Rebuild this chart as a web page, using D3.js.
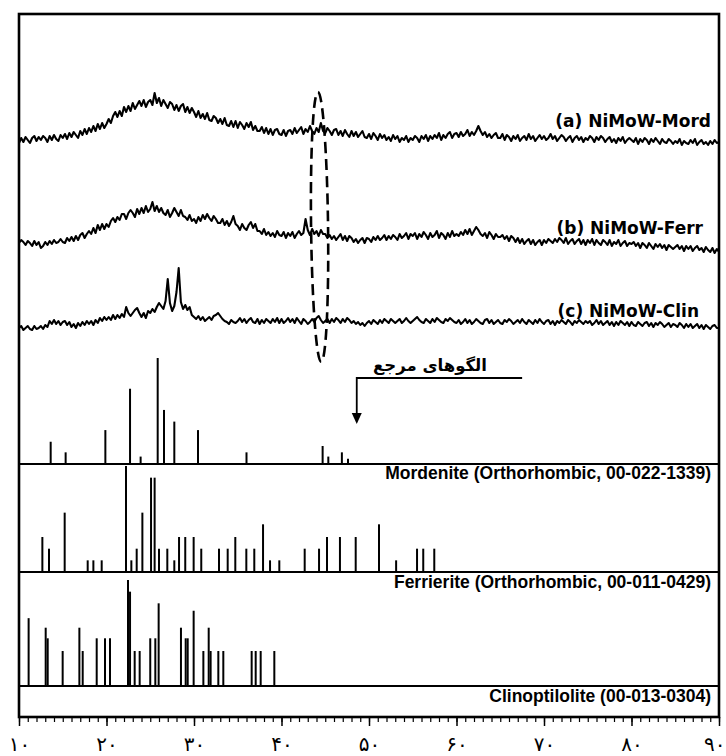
<!DOCTYPE html>
<html><head><meta charset="utf-8">
<script src="https://cdn.jsdelivr.net/npm/d3@7/dist/d3.min.js"></script>
<style>body{margin:0;background:#fff}</style>
</head><body><svg id="chart" width="726" height="756"></svg>
<script>
// ---------------- data ----------------
const angleStart = 10, angleStep = 0.25;   // 2θ sampling of the measured patterns
const curveLabels = ["(a) NiMoW-Mord", "(b) NiMoW-Ferr", "(c) NiMoW-Clin"];
const curveA = [
 7,12,8,13,10,7,12,14,9,13,10,14,12,8,14,10,15,11,9,15,
 12,16,11,17,13,18,15,12,19,15,21,16,22,18,24,19,26,21,27,22,
 26,31,27,34,38,33,39,34,43,38,44,39,47,41,45,49,44,50,43,48,
 50,45,57,47,52,44,50,46,42,48,46,40,45,39,44,46,38,43,37,42,
 38,33,39,32,36,31,37,30,29,34,32,27,31,26,32,25,24,29,23,29,
 22,28,25,21,27,23,28,20,24,19,19,23,17,22,16,21,15,20,21,16,
 15,20,14,19,20,16,22,17,20,23,16,21,18,24,19,16,22,18,27,19,
 17,22,19,15,20,21,15,19,14,20,16,13,19,14,18,13,16,19,13,12,
 16,11,17,14,10,16,12,15,10,13,9,15,11,14,8,12,10,14,8,12,
 10,14,12,8,14,11,15,9,14,11,15,12,17,10,15,12,16,18,12,16,
 17,13,18,14,16,20,14,18,15,19,24,19,15,18,13,16,12,15,17,12,
 12,16,10,15,13,9,14,11,15,9,12,14,10,16,11,14,9,12,15,11,
 14,10,12,16,11,14,9,12,15,13,9,12,14,8,12,14,10,13,8,12,
 10,14,12,8,13,10,14,12,8,11,13,8,11,7,12,9,13,7,10,12,
 10,8,12,6,11,8,12,10,6,11,8,12,9,6,11,8,7,11,9,6,
 9,7,11,5,9,7,6,10,7,11,5,8,10,6,8,5,9,6,10,7,
 8];
const curveB = [
 12,15,13,10,14,12,9,14,10,13,7,9,13,10,14,11,15,12,13,16,
 13,12,17,14,18,14,19,15,20,22,17,21,24,21,27,22,30,25,31,26,
 31,28,34,37,33,38,35,41,41,36,42,45,42,38,46,41,47,42,49,43,
 46,53,44,49,43,47,42,40,45,38,42,47,43,39,45,39,38,35,40,34,
 36,32,38,34,40,36,41,37,34,39,36,32,32,36,30,34,29,33,39,31,
 29,25,31,27,25,30,33,27,31,24,24,21,26,20,23,19,22,18,24,20,
 19,23,17,22,19,23,17,21,24,20,22,36,25,20,26,21,24,19,25,21,
 21,17,20,16,19,15,18,21,15,19,14,19,17,13,16,12,15,17,12,17,
 16,13,18,15,19,15,17,20,15,19,16,20,18,15,21,17,19,22,16,21,
 19,22,16,21,18,23,20,16,22,18,20,24,17,22,20,16,22,18,24,19,
 21,19,23,20,25,21,26,20,24,28,25,21,19,22,17,23,20,16,21,18,
 18,20,16,19,14,19,17,13,17,12,16,11,14,16,11,15,10,13,15,10,
 15,12,16,14,12,16,13,17,15,12,17,11,14,16,11,14,16,11,15,10,
 15,12,16,10,15,12,10,15,13,10,15,9,13,11,15,9,12,14,9,12,
 11,13,9,12,7,12,10,7,12,9,6,11,8,11,7,10,5,10,8,6,
 8,10,6,9,4,9,6,9,4,7,9,5,7,3,8,5,3,7,2,6,
 3];
const curveC = [
 2,4,0,2,4,1,0,4,1,2,4,1,5,3,9,6,10,6,9,5,
 8,9,5,8,3,6,2,7,4,8,5,9,6,9,5,10,7,12,9,13,
 10,13,10,15,11,15,12,16,13,23,17,14,17,20,22,17,13,17,12,19,
 17,21,18,23,27,24,21,29,51,27,19,24,38,62,28,21,25,20,23,15,
 13,11,14,10,13,9,11,13,10,14,15,17,14,11,9,8,6,10,8,7,
 9,12,8,11,7,10,12,8,7,11,6,10,7,11,9,7,11,8,12,7,
 11,7,9,12,8,11,7,12,9,6,11,9,6,8,11,8,12,14,10,7,
 9,11,7,11,8,12,10,7,11,8,12,10,7,9,6,8,5,7,4,7,
 9,6,10,8,6,10,7,11,9,7,11,9,7,9,11,7,9,12,9,7,
 9,11,13,10,8,7,11,9,7,11,8,12,10,8,7,11,9,12,10,8,
 7,10,6,8,11,7,10,6,8,11,9,7,6,10,11,7,10,6,8,10,
 7,6,10,8,11,9,6,8,10,7,11,8,6,10,8,6,10,7,11,8,
 6,9,10,6,9,5,9,7,10,8,6,10,8,5,9,7,10,8,6,9,
 7,9,5,7,10,6,9,5,7,9,5,8,4,8,5,9,7,5,8,4,
 8,5,4,8,6,4,7,8,4,7,3,7,5,8,6,3,5,7,3,6,
 5,3,7,5,2,6,3,6,2,4,6,2,5,1,5,3,1,4,5,2,
 2];

// reference stick patterns: 2θ positions and relative intensities (%)
const refLabels = ["Mordenite (Orthorhombic, 00-022-1339)", "Ferrierite (Orthorhombic, 00-011-0429)", "Clinoptilolite  (00-013-0304)"];
const mordenitePos = [13.62,15.33,19.87,22.69,23.9,25.85,26.57,27.75,30.46,36.0,44.7,45.35,46.9,47.6];
const mordeniteInt = [21,11,32,71,7,100,51,40,32,11,17,7,11,5];
const ferrieritePos = [12.67,13.43,15.22,17.85,18.5,19.45,22.23,22.84,23.45,24.1,25.09,25.5,26.0,26.95,27.75,28.29,29.0,29.96,30.83,32.86,33.85,34.72,35.98,36.89,37.89,38.69,39.75,42.65,44.29,45.2,46.68,48.48,51.14,53.1,55.49,56.2,57.46];
const ferrieriteInt = [33,22,56,11,11,11,100,11,22,56,89,89,22,22,11,33,33,33,22,22,22,33,22,22,45,11,11,22,22,33,33,33,45,11,22,22,22];
const clinoPos = [11.1,13.05,13.28,14.99,16.9,17.28,18.88,19.83,20.4,22.46,22.69,23.22,23.79,25.0,25.58,25.96,28.51,29.05,29.28,29.96,31.07,31.68,31.9,32.78,33.35,36.59,37.05,37.62,39.18];
const clinoInt = [64,55,45,33,55,33,45,45,45,100,89,33,33,45,45,78,55,45,45,71,33,55,33,33,33,33,33,33,33];

const tickValues = [10,20,30,40,50,60,70,80,90];
const tickLabels = ["۱۰","۲۰","۳۰","۴۰","۵۰","۶۰","۷۰","۸۰","۹۰"];
const annotationText = "الگوهای مرجع";

// ---------------- layout ----------------
const svg = d3.select("#chart");
const L = 19, R = 719, T = 14, B = 717;
const x = d3.scaleLinear().domain([10, 90]).range([L, R]);

// measured curves
const curves = [
  {vals: curveA, base: 150, label: curveLabels[0], ly: 127, lx: 711},
  {vals: curveB, base: 255, label: curveLabels[1], ly: 234, lx: 703},
  {vals: curveC, base: 330, label: curveLabels[2], ly: 317, lx: 699}
];
curves.forEach(c => {
  const y = d3.scaleLinear().domain([0, 100]).range([c.base, c.base - 100]);
  const line = d3.line().x((d, i) => x(angleStart + i * angleStep)).y(d => y(d));
  svg.append("path").attr("d", line(c.vals)).attr("fill", "none")
    .attr("stroke", "#000").attr("stroke-width", 2.1).attr("stroke-linejoin", "round");
  svg.append("text").attr("x", c.lx).attr("y", c.ly).attr("text-anchor", "end")
    .attr("font-family", "DejaVu Sans").attr("font-weight", "bold").attr("font-size", 17)
    .text(c.label);
});

// stick panels
const panels = [
  {pos: mordenitePos, int: mordeniteInt, base: 464, label: refLabels[0], ly: 478.5},
  {pos: ferrieritePos, int: ferrieriteInt, base: 572, label: refLabels[1], ly: 588},
  {pos: clinoPos, int: clinoInt, base: 686, label: refLabels[2], ly: 702}
];
panels.forEach(p => {
  const y = d3.scaleLinear().domain([0, 100]).range([p.base, p.base - 106]);
  svg.append("g").selectAll("line").data(p.pos).join("line")
    .attr("x1", d => x(d)).attr("x2", d => x(d))
    .attr("y1", y(0)).attr("y2", (d, i) => y(p.int[i]))
    .attr("stroke", "#000").attr("stroke-width", 2);
  svg.append("line").attr("x1", L).attr("x2", R).attr("y1", p.base).attr("y2", p.base)
    .attr("stroke", "#000").attr("stroke-width", 2);
  svg.append("text").attr("x", 711).attr("y", p.ly).attr("text-anchor", "end")
    .attr("font-family", "Liberation Sans, Arial").attr("font-weight", "bold").attr("font-size", 17.5)
    .text(p.label);
});

// annotation: reference patterns arrow
svg.append("text").attr("x", 430).attr("y", 371).attr("text-anchor", "middle")
  .attr("font-family", "DejaVu Sans").attr("font-weight", "bold").attr("font-size", 16.5).attr("direction", "rtl")
  .text(annotationText);
svg.append("path").attr("d", `M${x(67.5)},378H${x(48.6)}V414`).attr("fill", "none")
  .attr("stroke", "#000").attr("stroke-width", 1.8);
svg.append("path").attr("d", `M${x(48.6)-5},413L${x(48.6)+5},413L${x(48.6)},424Z`).attr("fill", "#000");

// dashed ellipse
svg.append("ellipse").attr("cx", x(44.35)).attr("cy", 227).attr("rx", 8.5).attr("ry", 135)
  .attr("fill", "none").attr("stroke", "#000").attr("stroke-width", 2.6)
  .attr("stroke-dasharray", "11,6").attr("transform", `rotate(-0.7 ${x(44.35)} 227)`);

// frame
svg.append("rect").attr("x", L).attr("y", T).attr("width", R - L).attr("height", B - T)
  .attr("fill", "none").attr("stroke", "#000").attr("stroke-width", 2.6);

// axis
const minor = d3.axisBottom(x).tickValues(d3.range(10, 91, 1)).tickSize(5).tickFormat("");
const gMinor = svg.append("g").attr("transform", `translate(0,${B})`).call(minor);
gMinor.select(".domain").remove();
gMinor.selectAll("line").attr("stroke-width", 1.2);
const major = d3.axisBottom(x).tickValues(tickValues).tickSize(9)
  .tickFormat((d, i) => tickLabels[i]).tickPadding(11);
const gMajor = svg.append("g").attr("transform", `translate(0,${B})`).call(major);
gMajor.select(".domain").remove();
gMajor.selectAll("line").attr("stroke-width", 1.5);
gMajor.selectAll("text").attr("font-family", "DejaVu Sans").attr("font-size", 20).attr("fill", "#000");
gMajor.selectAll("text").filter(d => d === 90).attr("text-anchor", "end").attr("x", 6);
</script></body></html>
